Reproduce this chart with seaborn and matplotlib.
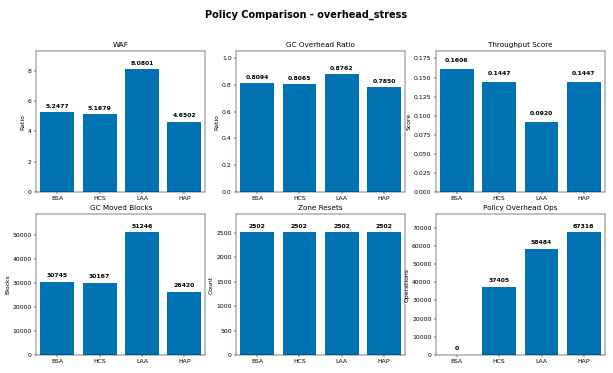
import matplotlib
matplotlib.use("Agg")
import matplotlib.pyplot as plt
import seaborn as sns
import pandas as pd

# policies and metrics
policies = ["BSA", "HCS", "LAA", "HAP"]
waf = [5.2477, 5.1679, 8.0801, 4.6502]
gc_overhead_ratio = [0.8094, 0.8065, 0.8762, 0.7850]
throughput_score = [0.1606, 0.1447, 0.0920, 0.1447]
gc_moved_blocks = [30745, 30167, 51246, 26420]
zone_resets = [2502, 2502, 2502, 2502]
policy_overhead_ops = [0, 37405, 58484, 67316]

# title, ylabel, values, label format, label offset (points)
panels = [
    ("WAF", "Ratio", waf, "{:.4f}", 5),
    ("GC Overhead Ratio", "Ratio", gc_overhead_ratio, "{:.4f}", 5),
    ("Throughput Score", "Score", throughput_score, "{:.4f}", 10),
    ("GC Moved Blocks", "Blocks", gc_moved_blocks, "{:d}", 6),
    ("Zone Resets", "Count", zone_resets, "{:d}", 6),
    ("Policy Overhead Ops", "Operations", policy_overhead_ops, "{:d}", 6),
]

BAR_COLOR = "#0173B2"
DPI = 613 / 14

def main():
    fig, axes = plt.subplots(2, 3, figsize=(14, 373 / DPI), dpi=DPI)
    fig.suptitle("Policy Comparison - overhead_stress", fontsize=16, fontweight="bold", y=0.975)

    for ax, (title, ylabel, values, fmt, off) in zip(axes.flat, panels):
        df = pd.DataFrame({"policy": policies, "value": values})
        sns.barplot(data=df, x="policy", y="value", color=BAR_COLOR, saturation=1,
                    width=0.8, ax=ax, errorbar=None)
        ax.set_title(title, fontsize=12)
        ax.set_xlabel("")
        ax.set_ylabel(ylabel, fontsize=10)
        vmax = max(values)
        if title == "GC Overhead Ratio":
            ax.set_ylim(0, 1.05)
        else:
            ax.set_ylim(0, vmax * 1.15)
        for i, v in enumerate(values):
            ax.annotate(fmt.format(v), (i, v), xytext=(0, off), textcoords="offset points",
                        ha="center", va="bottom", fontsize=10, fontweight="bold")

    plt.subplots_adjust(left=0.059, right=0.987, top=0.863, bottom=0.048,
                        wspace=0.18, hspace=0.156)
    plt.savefig("out.png", dpi=DPI)
    plt.close()

if __name__ == "__main__":
    main()
